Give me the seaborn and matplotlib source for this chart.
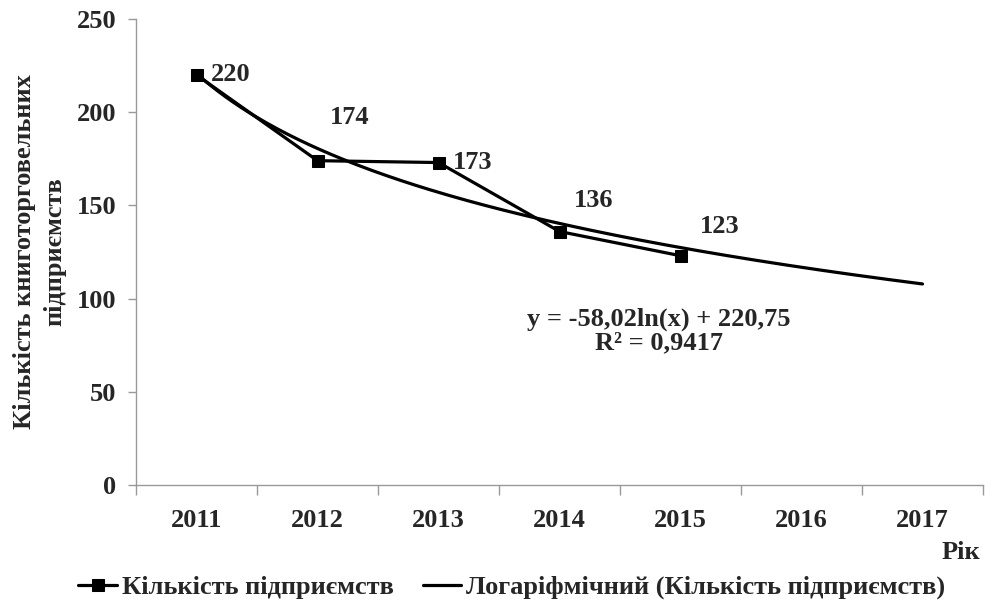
import numpy as np
import pandas as pd
import seaborn as sns
import matplotlib.pyplot as plt

# data
years = [2011, 2012, 2013, 2014, 2015]
counts = [220, 174, 173, 136, 123]
axis_years = [2011, 2012, 2013, 2014, 2015, 2016, 2017]
# label offsets (points) as placed in the original
label_offsets = [(10, 0), (9, 31), (10, 0), (10, 22), (14, 21)]

sns.set_theme(style='white')
plt.rcParams['font.family'] = ['Liberation Serif', 'DejaVu Serif']
plt.rcParams['font.weight'] = 'bold'
FS = 19

df = pd.DataFrame({'year': years, 'count': counts})

# logarithmic trendline, x = 1..n as in Excel
idx = np.arange(1, len(years) + 1)
slope, intercept = np.polyfit(np.log(idx), df['count'], 1)
pred = slope * np.log(idx) + intercept
r2 = 1 - np.sum((df['count'] - pred) ** 2) / np.sum((df['count'] - df['count'].mean()) ** 2)
xt = np.linspace(1, len(axis_years), 200)
trend = pd.DataFrame({'year': xt + axis_years[0] - 1, 'count': slope * np.log(xt) + intercept})

fig = plt.figure(figsize=(9.98, 6.06), dpi=100)
ax = fig.add_axes([0.1363, 0.1997, 0.8487, 0.7689])

sns.lineplot(data=df, x='year', y='count', ax=ax, color='black', lw=2.3, marker='s',
             markersize=9, markeredgecolor='black', label='Кількість підприємств')
sns.lineplot(data=trend, x='year', y='count', ax=ax, color='black', lw=2.3,
             label='Логаріфмічний (Кількість підприємств)')

for (x, y), off in zip(zip(years, counts), label_offsets):
    ax.annotate(str(y), (x, y), xytext=off, textcoords='offset points',
                ha='left', va='center', fontsize=FS, fontweight='bold')

ax.text(2014.82, 82.5, f'y = {slope:.2f}ln(x) + {intercept:.2f}'.replace('.', ',') + '\n'
        + f'R² = {r2:.4f}'.replace('.', ','),
        ha='center', va='center', fontsize=FS, fontweight='bold', linespacing=1.0)

ax.set_xlim(axis_years[0] - 0.5, axis_years[-1] + 0.5)
ax.set_ylim(0, 250)
ax.set_yticks(range(0, 251, 50))
ax.set_xticks([y - 0.5 for y in axis_years] + [axis_years[-1] + 0.5])
ax.set_xticklabels([])
ax.set_xticks(axis_years, minor=True)
ax.set_xticklabels([str(y) for y in axis_years], minor=True)
ax.tick_params(axis='x', which='major', length=7, width=1, color='#999999', direction='out', bottom=True)
ax.tick_params(axis='x', which='minor', length=0, pad=17, labelsize=FS)
ax.tick_params(axis='y', length=6, width=1, color='#999999', direction='out', left=True, labelsize=FS, pad=8)
for lab in ax.get_xticklabels(minor=True) + ax.get_yticklabels():
    lab.set_fontweight('bold')

for s in ['top', 'right']:
    ax.spines[s].set_visible(False)
for s in ['left', 'bottom']:
    ax.spines[s].set_color('#999999')
    ax.spines[s].set_linewidth(1)

ax.set_xlabel('')
ax.set_ylabel('Кількість книготорговельних\nпідприємств', fontsize=FS, fontweight='bold', labelpad=8,
              linespacing=1.4)
fig.text(0.982, 0.088, 'Рік', ha='right', va='center', fontsize=FS, fontweight='bold')

ax.get_legend().remove()
handles, labels = ax.get_legend_handles_labels()
fig.legend(handles, labels, loc='center', bbox_to_anchor=(0.513, 0.031), ncol=2, frameon=False,
           prop={'size': FS, 'weight': 'bold'}, handlelength=1.45, columnspacing=1.1, handletextpad=0.2)

fig.savefig('out.png', dpi=100)
